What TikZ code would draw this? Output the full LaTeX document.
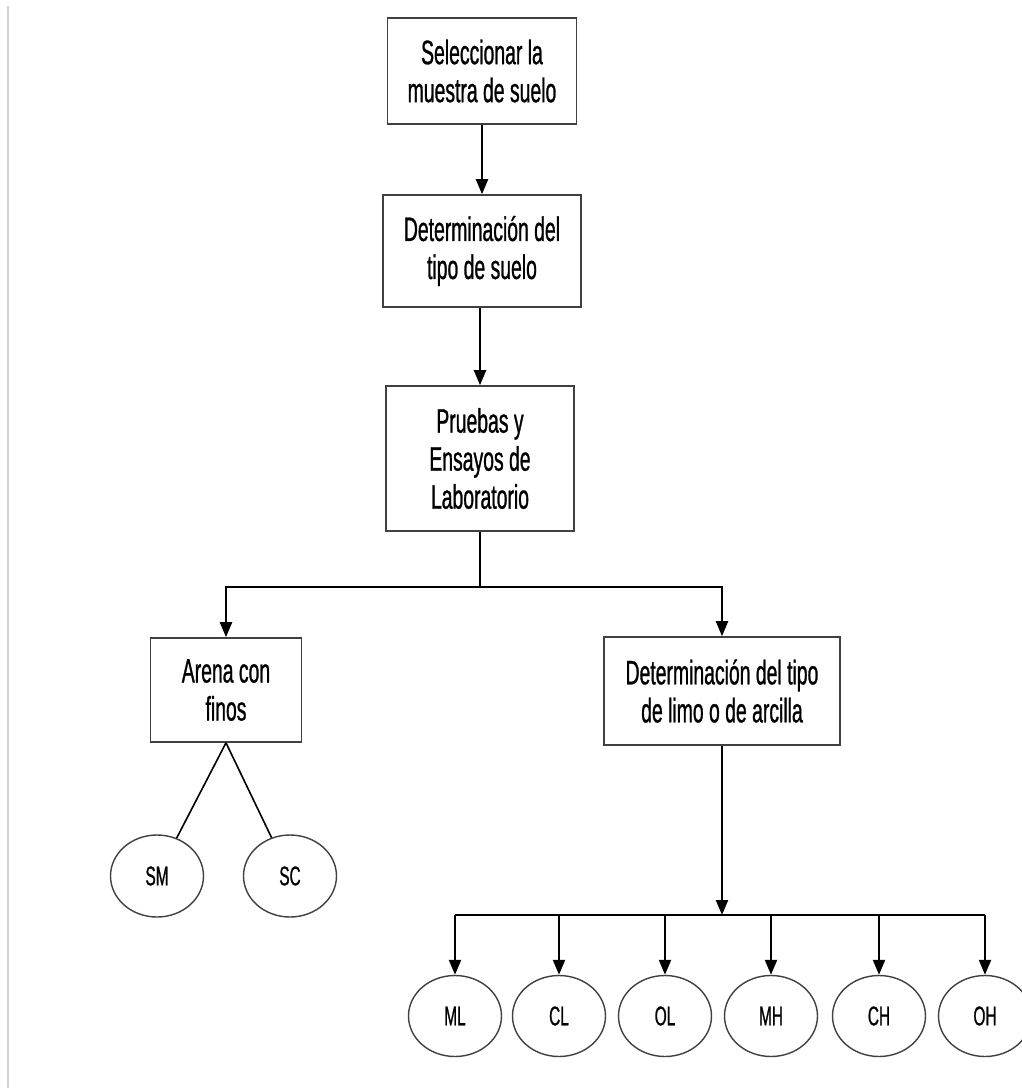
\documentclass[tikz,border=0pt]{standalone}
\usepackage{fontspec}
\setmainfont{Liberation Sans}[FakeStretch=0.57, FakeBold=0.8]
\usepackage{tikz}
\usetikzlibrary{shapes.geometric,arrows.meta}

\begin{document}
\begin{tikzpicture}[x=1pt, y=-1pt,
  box/.style={draw=black!75, line width=1.6pt, align=center, inner sep=0pt, font=\fontsize{34}{38}\selectfont},
  leaf/.style={ellipse, draw=black!75, line width=1.4pt, inner sep=0pt, minimum width=93pt, minimum height=82pt, font=\fontsize{27}{30}\selectfont},
  link/.style={line width=2.2pt},
  arr/.style={link, -{Triangle[length=15pt, width=12pt]}}]
  \useasboundingbox[fill=white] (0,0) rectangle (1022,1088);
  \draw[black!18, line width=2.5pt] (8,6) -- (8,1088);
  \node[box, minimum width=189pt, minimum height=106pt] (sel) at (482,71) {Seleccionar la\\muestra de suelo};
  \node[box, minimum width=198pt, minimum height=112pt] (tipo) at (482,251) {Determinación del\\tipo de suelo};
  \node[box, minimum width=188pt, minimum height=145pt] (pru) at (480,458.5) {Pruebas y\\Ensayos de\\Laboratorio};
  \node[box, minimum width=151pt, minimum height=104pt] (are) at (226,690) {Arena con\\finos};
  \node[box, minimum width=236pt, minimum height=108pt] (lim) at (722,691) {Determinación del tipo\\de limo o de arcilla};
  \node[leaf] (sm) at (157,876) {SM};
  \node[leaf] (sc) at (290,876) {SC};
  \foreach \n/\x in {ml/455, cl/559, ol/665, mh/771, ch/879, oh/985}
    \node[leaf, minimum height=81pt] (\n) at (\x,1016) {\MakeUppercase{\n}};
  \coordinate (split) at (480,587);
  \coordinate (bar) at (722,915);
  \draw[arr] (sel) -- (tipo);
  \draw[arr] (tipo.south -| pru) -- (pru);
  \draw[link] (pru) -- (split);
  \draw[arr] (split) -| (are);
  \draw[arr] (split) -| (lim);
  \draw[link, line width=1.6pt] (are.south) -- (sm);
  \draw[link, line width=1.6pt] (are.south) -- (sc);
  \draw[arr] (lim) -- (bar);
  \draw[link] (ml.north |- bar) -- (oh.north |- bar);
  \foreach \n in {ml, cl, ol, mh, ch, oh}
    \draw[arr] (\n.north |- bar) -- (\n.north);
\end{tikzpicture}
\end{document}
